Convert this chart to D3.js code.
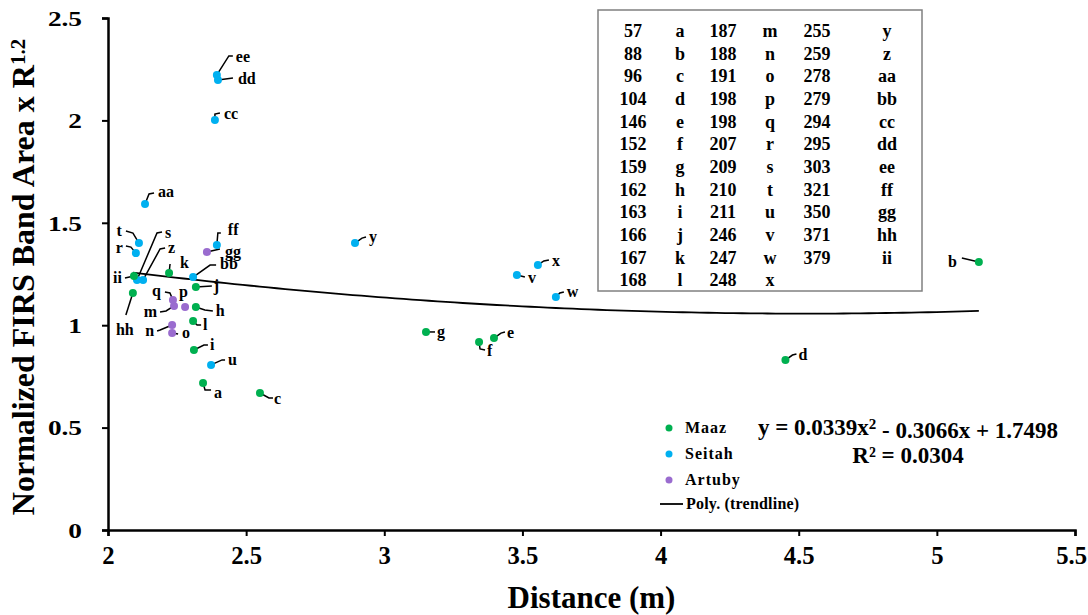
<!DOCTYPE html>
<html>
<head>
<meta charset="utf-8">
<script src="https://cdn.jsdelivr.net/npm/d3@7"></script>
<style>
  body { margin: 0; background: #fff; }
  text { font-family: "Liberation Serif", "Times New Roman", serif; font-weight: bold; fill: #000; }
</style>
</head>
<body>
<svg id="chart" width="1088" height="615"></svg>
<script>
// Sample letters, ids, site and measured values
var labels = ["a","b","c","d","e","f","g","h","i","j","k","l",
              "m","n","o","p","q","r","s","t","u","v","w","x",
              "y","z","aa","bb","cc","dd","ee","ff","gg","hh","ii"];
var sampleIds = [57,88,96,104,146,152,159,162,163,166,167,168,
                 187,188,191,198,198,207,209,210,211,246,247,248,
                 255,259,278,279,294,295,303,321,350,371,379];
var sites = ["Maaz","Maaz","Maaz","Maaz","Maaz","Maaz","Maaz","Maaz","Maaz","Maaz","Maaz","Maaz",
             "Artuby","Artuby","Artuby","Artuby","Artuby","Seitah","Seitah","Seitah","Seitah","Seitah","Seitah","Seitah",
             "Seitah","Seitah","Seitah","Seitah","Seitah","Seitah","Seitah","Seitah","Artuby","Maaz","Maaz"];
var distance = [2.344,5.152,2.550,4.452,3.397,3.343,3.151,2.318,2.311,2.318,2.221,2.308,
                2.239,2.232,2.232,2.279,2.235,2.101,2.105,2.112,2.373,3.480,3.621,3.556,
                2.894,2.127,2.134,2.308,2.387,2.398,2.394,2.394,2.358,2.090,2.094];
var normArea = [0.718,1.309,0.669,0.830,0.937,0.918,0.967,1.089,0.879,1.187,1.255,1.020,
                1.094,1.001,0.962,1.089,1.123,1.352,1.221,1.401,0.806,1.245,1.138,1.294,
                1.401,1.221,1.592,1.235,2.002,2.197,2.222,1.392,1.357,1.157,1.240];

var siteNames = ["Maaz", "Seitah", "Artuby"];
var siteColours = ["#00b050", "#00b0f0", "#9a6ccf"];

// Trendline y = c0 + c1*x + c2*x^2
var trendCoef = [1.7498, -0.3066, 0.0339];
var rSquared = 0.0304;

var xTicks = [2, 2.5, 3, 3.5, 4, 4.5, 5, 5.5];
var yTicks = [0, 0.5, 1, 1.5, 2, 2.5];

// Leader line points / label offset (pixels from the dot)
var leaders = {
  a:  {pts: [[2,7],[8,7]], at: [11,15], anchor: "start"},
  b:  {pts: [[-17,-4]], at: [-22,5], anchor: "end"},
  c:  {pts: [[9,5],[13,5]], at: [14,11], anchor: "start"},
  d:  {pts: [[7,-5],[11,-6]], at: [13,0], anchor: "start"},
  e:  {pts: [[7,-5],[11,-6]], at: [13,0], anchor: "start"},
  f:  {pts: [[1,7],[6,8]], at: [8,14], anchor: "start"},
  g:  {pts: [[9,0]], at: [11,5], anchor: "start"},
  h:  {pts: [[9,3],[17,4]], at: [20,9], anchor: "start"},
  i:  {pts: [[10,-5],[14,-5]], at: [16,0], anchor: "start"},
  j:  {pts: [[16,-1]], at: [18,4], anchor: "start"},
  k:  {pts: [[1,-9]], at: [11,-5], anchor: "start"},
  l:  {pts: [[4,4],[8,4]], at: [10,9], anchor: "start"},
  m:  {pts: [[-8,5],[-14,6]], at: [-17,11], anchor: "end"},
  n:  {pts: [[-12,5],[-15,6]], at: [-18,11], anchor: "end"},
  o:  {pts: [[6,1]], at: [10,5], anchor: "start"},
  p:  {pts: [], at: [-6,-10], anchor: "start"},
  q:  {pts: [[-3,-7],[-8,-8]], at: [-12,-4], anchor: "end"},
  r:  {pts: [[-5,-6],[-10,-7]], at: [-13,0], anchor: "end"},
  s:  {pts: [[20,-47],[25,-48]], at: [28,-42], anchor: "start"},
  t:  {pts: [[-6,-10],[-13,-12]], at: [-17,-7], anchor: "end"},
  u:  {pts: [[11,-5],[14,-5]], at: [17,0], anchor: "start"},
  v:  {pts: [[8,2]], at: [11,8], anchor: "start"},
  w:  {pts: [[4,-4],[8,-5]], at: [11,0], anchor: "start"},
  x:  {pts: [[6,-4],[11,-5]], at: [14,1], anchor: "start"},
  y:  {pts: [[7,-5],[11,-6]], at: [14,-1], anchor: "start"},
  z:  {pts: [[17,-31],[22,-32]], at: [25,-27], anchor: "start"},
  aa: {pts: [[4,-10],[9,-11]], at: [13,-7], anchor: "start"},
  bb: {pts: [[17,-12],[23,-12]], at: [27,-8], anchor: "start"},
  cc: {pts: [[0,-6],[5,-7]], at: [9,-1], anchor: "start"},
  dd: {pts: [[15,-2]], at: [20,4], anchor: "start"},
  ee: {pts: [[12,-19],[16,-19]], at: [19,-13], anchor: "start"},
  ff: {pts: [[1,-12],[4,-12]], at: [11,-10], anchor: "start"},
  gg: {pts: [[13,-3]], at: [18,5], anchor: "start"},
  hh: {pts: [[-7,22]], at: [-8,42], anchor: "middle"},
  ii: {pts: [[-9,2]], at: [-12,7], anchor: "end"}
};

var svg = d3.select("#chart");

var x = d3.scaleLinear().domain([2, 5.5]).range([108, 1075]);
var y = d3.scaleLinear().domain([0, 2.5]).range([530, 18]);
var colour = d3.scaleOrdinal().domain(siteNames).range(siteColours);

// Axes
var xAxis = svg.append("g")
  .attr("transform", "translate(0,530)")
  .call(d3.axisBottom(x).tickValues(xTicks).tickSize(6).tickPadding(10).tickFormat(d3.format("")));
var yAxis = svg.append("g")
  .attr("transform", "translate(108,0)")
  .call(d3.axisLeft(y).tickValues(yTicks).tickSize(6).tickPadding(14).tickFormat(d3.format("")));

[xAxis, yAxis].forEach(function(a) {
  a.select(".domain").attr("stroke", "#000").attr("stroke-width", 2.5);
  a.selectAll(".tick line").attr("stroke", "#000").attr("stroke-width", 2);
  a.selectAll(".tick text")
    .style("font-family", "'Liberation Serif', serif")
    .style("font-weight", "bold")
    .attr("fill", "#000");
});
// x labels a bit tall & narrow, y labels a bit wide (as in the original)
xAxis.selectAll(".tick text")
  .style("font-size", "26px")
  .attr("transform", "scale(0.95,1)")
  .attr("dx", function(d) { return d === 5.5 ? -4 : 0; });
yAxis.selectAll(".tick text")
  .style("font-size", "21px")
  .attr("transform", "scale(1.3,1)")
  .attr("dy", "0.35em");

svg.append("text")
  .attr("x", (x(2) + x(5.5)) / 2)
  .attr("y", 608)
  .attr("text-anchor", "middle")
  .style("font-size", "31px")
  .text("Distance (m)");

var yTitle = svg.append("text")
  .attr("transform", "translate(34," + ((y(0) + y(2.5)) / 2 + 3) + ") rotate(-90)")
  .attr("text-anchor", "middle")
  .style("font-size", "32px");
yTitle.append("tspan").text("Normalized FIRS Band Area x R");
yTitle.append("tspan").attr("dy", "-0.45em").style("font-size", "21px").text("1.2");

// Trendline across the data range
var xExt = d3.extent(distance);
var trendPts = d3.range(xExt[0], xExt[1] + 0.001, (xExt[1] - xExt[0]) / 100).map(function(v) {
  return [v, trendCoef[0] + trendCoef[1] * v + trendCoef[2] * v * v];
});
svg.append("path")
  .datum(trendPts)
  .attr("fill", "none")
  .attr("stroke", "#000")
  .attr("stroke-width", 1.8)
  .attr("d", d3.line().x(function(d) { return x(d[0]); }).y(function(d) { return y(d[1]); }));

// Leader lines and point labels
var points = labels.map(function(l, i) {
  return {label: l, id: sampleIds[i], site: sites[i], dx: distance[i], v: normArea[i]};
});

var lab = svg.selectAll(".plabel")
  .data(points)
  .enter().append("g")
  .attr("class", "plabel")
  .attr("transform", function(d) { return "translate(" + x(d.dx) + "," + y(d.v) + ")"; });

lab.append("path")
  .attr("fill", "none")
  .attr("stroke", "#000")
  .attr("stroke-width", 1.5)
  .attr("d", function(d) {
    var p = leaders[d.label].pts;
    if (!p.length) return null;
    return "M0,0" + p.map(function(q) { return "L" + q[0] + "," + q[1]; }).join("");
  });

lab.append("text")
  .attr("x", function(d) { return leaders[d.label].at[0]; })
  .attr("y", function(d) { return leaders[d.label].at[1]; })
  .attr("text-anchor", function(d) { return leaders[d.label].anchor; })
  .style("font-size", "16px")
  .text(function(d) { return d.label; });

// Dots
svg.selectAll(".dot")
  .data(points)
  .enter().append("circle")
  .attr("class", "dot")
  .attr("cx", function(d) { return x(d.dx); })
  .attr("cy", function(d) { return y(d.v); })
  .attr("r", 4)
  .attr("fill", function(d) { return colour(d.site); });

// Sample id table (3 column pairs)
var tbl = svg.append("g");
tbl.append("rect")
  .attr("x", 598).attr("y", 10)
  .attr("width", 324).attr("height", 281)
  .attr("fill", "#fff")
  .attr("stroke", "#808080")
  .attr("stroke-width", 1.5);

var colX = [633, 680, 723, 770, 817, 887];
var rowsPerCol = 12;
points.forEach(function(d, i) {
  var c = Math.floor(i / rowsPerCol), r = i % rowsPerCol;
  var yy = 37 + r * 22.65;
  tbl.append("text").attr("x", colX[c * 2]).attr("y", yy)
    .attr("text-anchor", "middle").style("font-size", "18px").text(d.id);
  tbl.append("text").attr("x", colX[c * 2 + 1]).attr("y", yy)
    .attr("text-anchor", "middle").style("font-size", "18px").text(d.label);
});

// Legend
var leg = svg.append("g");
siteNames.forEach(function(s, i) {
  var ly = 428 + i * 26;
  leg.append("circle").attr("cx", 669).attr("cy", ly).attr("r", 3.5).attr("fill", colour(s));
  leg.append("text").attr("x", 685).attr("y", ly + 5)
    .style("font-size", "16px").style("letter-spacing", "1px").text(s);
});
leg.append("line")
  .attr("x1", 660).attr("x2", 683).attr("y1", 504).attr("y2", 504)
  .attr("stroke", "#000").attr("stroke-width", 1.8);
leg.append("text").attr("x", 686).attr("y", 509)
  .style("font-size", "16px").style("letter-spacing", "0.2px").text("Poly. (trendline)");

// Equation
var fmt = d3.format(".4f");
var eq = svg.append("text").attr("x", 908).attr("y", 435)
  .attr("text-anchor", "middle").style("font-size", "23px");
eq.append("tspan").text("y = " + fmt(trendCoef[2]) + "x");
eq.append("tspan").attr("dy", "-0.4em").style("font-size", "15px").text("2");
eq.append("tspan").attr("dy", "0.4em").text(" - " + fmt(-trendCoef[1]) + "x + " + fmt(trendCoef[0]));
svg.append("text").attr("x", 908).attr("y", 463)
  .attr("text-anchor", "middle").style("font-size", "23px")
  .text("R\u00b2 = " + fmt(rSquared));
</script>
</body>
</html>
